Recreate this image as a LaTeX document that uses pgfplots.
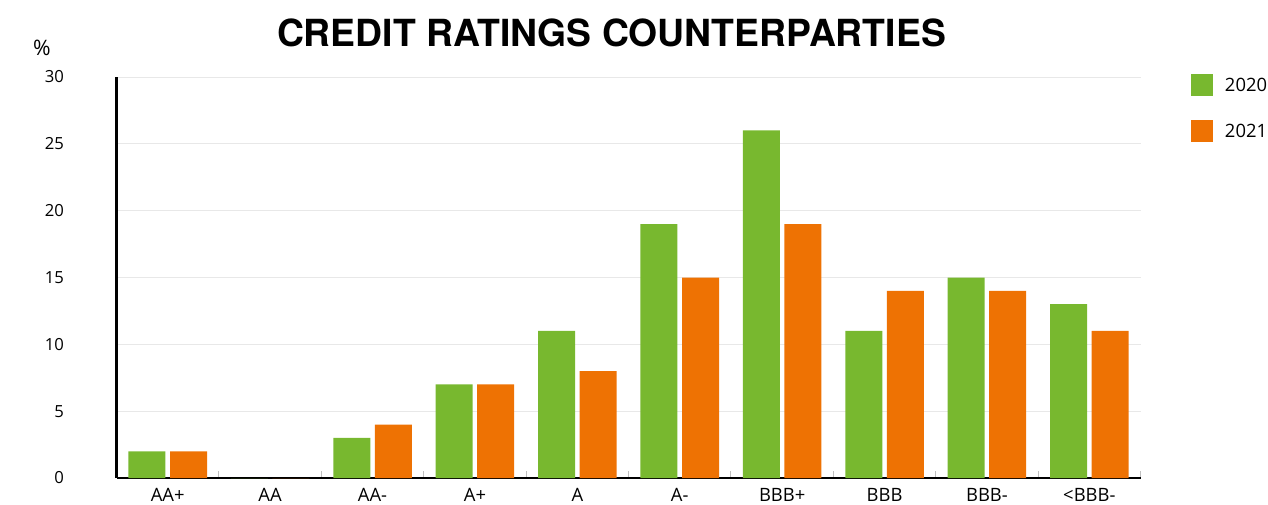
\documentclass[border=0pt]{standalone}
\usepackage{fontspec}
\setmainfont{Open Sans}
\newfontfamily\titlefont{TeX Gyre Heros}
\usepackage{pgfplots}
\pgfplotsset{compat=1.18}
\definecolor{cgreen}{HTML}{78B82F}
\definecolor{corange}{HTML}{EE7203}
\definecolor{gridgray}{HTML}{E8E8E8}
\begin{document}
\begin{tikzpicture}[x=1pt,y=1pt]
\path[use as bounding box] (0,0) rectangle (951,378);
\begin{axis}[
  at={(87.4pt,19.5pt)}, anchor=south west,
  scale only axis, width=768pt, height=300.75pt,
  ybar, bar width=27.75pt, ybar=3.4pt,
  xmin=-0.5, xmax=9.5, ymin=0, ymax=30,
  ytick={0,5,...,30},
  xtick={0,...,9},
  xticklabels={AA+,AA,AA-,A+,A,A-,BBB+,BBB,BBB-,{<BBB-}},
  minor xtick={0.5,1.5,...,9.5},
  axis x line*=bottom, axis y line*=left,
  axis line style={line width=2.2pt,-},
  ymajorgrids, grid style={gridgray, line width=0.75pt},
  major tick length=0pt, minor tick length=5.5pt, tick align=inside,
  minor x tick style={black!25, line width=0.75pt},
  /pgf/number format/assume math mode=true,
  tick label style={font=\fontsize{12.5}{14}\selectfont},
  xticklabel style={font=\fontsize{13.8}{15}\selectfont, yshift=-4pt},
  yticklabel style={xshift=-36pt},
  legend style={at={(1.049,1.007)}, anchor=north west, draw=none, fill=none,
    inner sep=0pt, row sep=18pt, column sep=9pt,
    font=\fontsize{13.8}{15}\selectfont,
    nodes={inner sep=0pt}},
  legend cell align=left,
]
\addplot[fill=cgreen, draw=none,
  legend image code/.code={\fill[cgreen] (0pt,-8.25pt) rectangle (16.5pt,8.25pt);}]
  coordinates {(0,2) (1,0) (2,3) (3,7) (4,11) (5,19) (6,26) (7,11) (8,15) (9,13)};
\addplot[fill=corange, draw=none,
  legend image code/.code={\fill[corange] (0pt,-8.25pt) rectangle (16.5pt,8.25pt);}]
  coordinates {(0,2) (1,0) (2,4) (3,7) (4,8) (5,15) (6,19) (7,14) (8,14) (9,11)};
\legend{2020,2021}
\end{axis}
\node[font=\fontsize{16}{18}\selectfont] at (31.5,342) {\%};
\node at (458.6,353) {\titlefont\bfseries\fontsize{28}{30}\selectfont CREDIT RATINGS COUNTERPARTIES};
\end{tikzpicture}
\end{document}
